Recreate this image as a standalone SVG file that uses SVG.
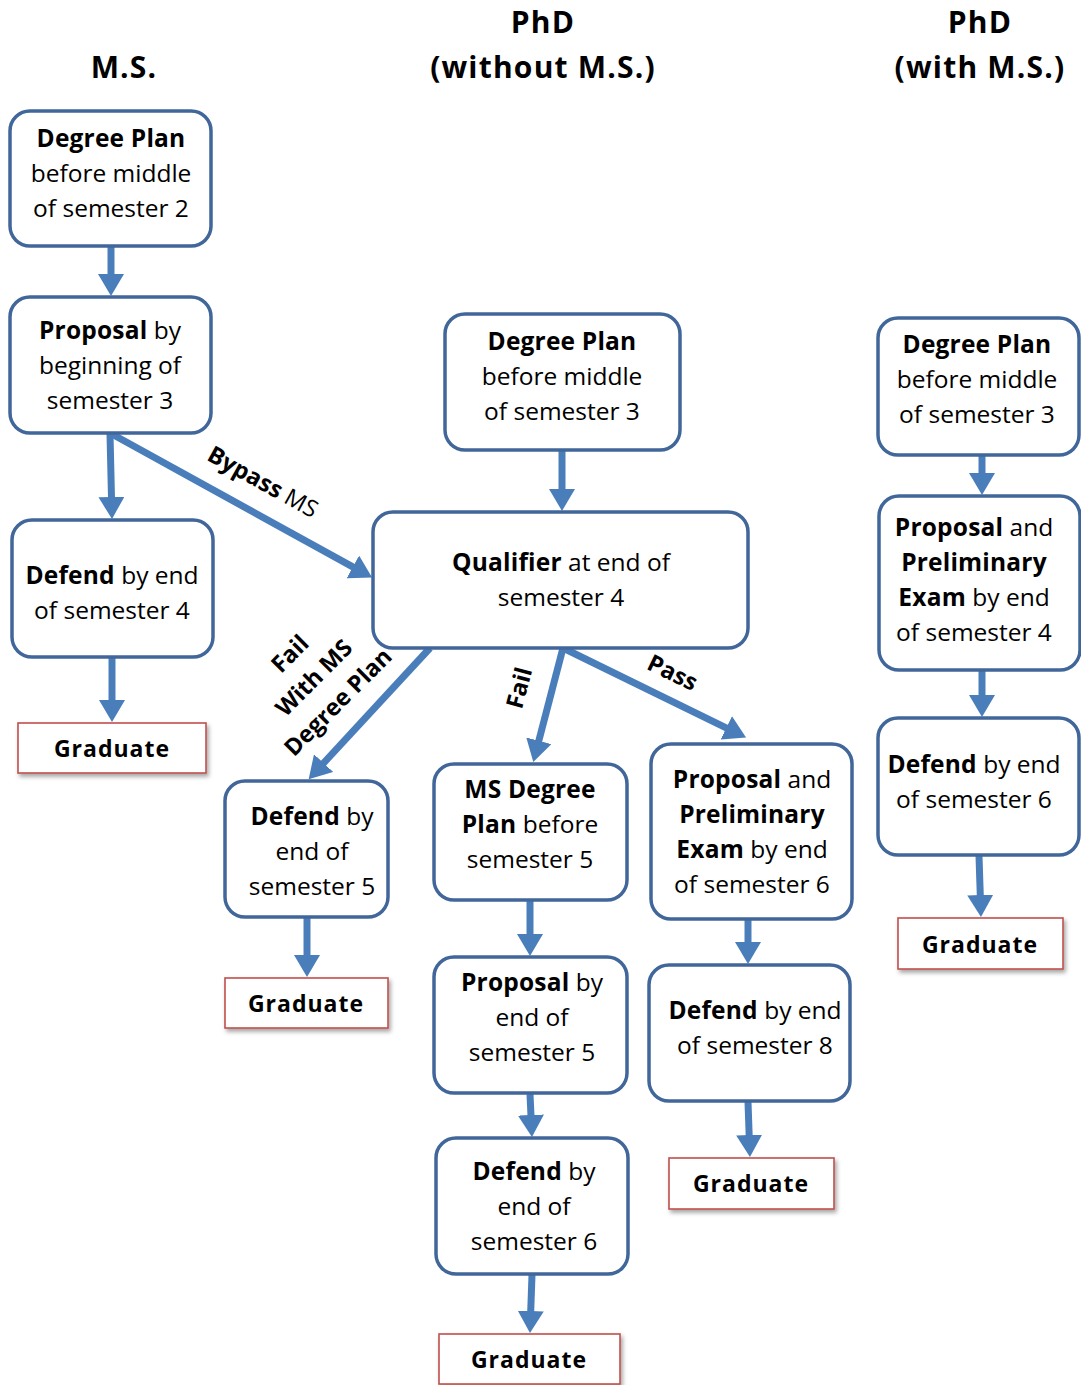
<svg xmlns="http://www.w3.org/2000/svg" width="1081" height="1385" viewBox="0 0 1081 1385">
<style>
text{font-family:"Open Sans","Noto Sans","DejaVu Sans",sans-serif;fill:#000}
.box{fill:#fff;stroke:#41679a;stroke-width:3.5}
.grad{fill:#fff;stroke:#c0504d;stroke-width:1.6;filter:url(#sh)}
.t{font-size:24.5px;text-anchor:middle}
.b{font-weight:bold;letter-spacing:0.2px}
.g{font-size:23px;font-weight:bold;text-anchor:middle;letter-spacing:1px}
.h{font-size:30px;font-weight:bold;text-anchor:middle;letter-spacing:1.2px}
.lbl{font-size:23.5px;font-weight:bold;text-anchor:middle}
.arr{stroke:#4a7ebb;stroke-width:7;fill:none;marker-end:url(#ah)}
</style>
<defs>
<marker id="ah" markerUnits="userSpaceOnUse" viewBox="0 -13 22 26" markerWidth="22" markerHeight="26" refX="1" refY="0" orient="auto">
<path d="M0,-13 L22,0 L0,13 z" fill="#4a7ebb"/>
</marker>
<filter id="sh" x="-10%" y="-20%" width="130%" height="160%">
<feDropShadow dx="2" dy="3" stdDeviation="2" flood-color="#000" flood-opacity="0.35"/>
</filter>
</defs>

<g id="headers">
<text class="h" x="124" y="78">M.S.</text>
<text class="h" x="543" y="33">PhD</text>
<text class="h" x="543" y="78">(without M.S.)</text>
<text class="h" x="980" y="33">PhD</text>
<text class="h" x="980" y="78">(with M.S.)</text>
</g>

<g id="connectors">
<line class="arr" x1="111" y1="247" x2="111" y2="275"/>
<line class="arr" x1="110" y1="434" x2="111.5" y2="498"/>
<line class="arr" x1="112" y1="658" x2="112" y2="701"/>
<line class="arr" x1="110" y1="433" x2="353.7" y2="567.4"/>
<line class="arr" x1="562" y1="451" x2="562" y2="490"/>
<line class="arr" x1="430" y1="648" x2="322.9" y2="763.8"/>
<line class="arr" x1="307" y1="918" x2="307" y2="956"/>
<line class="arr" x1="563" y1="648" x2="538.6" y2="741.7"/>
<line class="arr" x1="530" y1="901" x2="530" y2="935"/>
<line class="arr" x1="530" y1="1094" x2="531" y2="1116"/>
<line class="arr" x1="532" y1="1275" x2="530.7" y2="1312"/>
<line class="arr" x1="563" y1="648" x2="727.2" y2="728.3"/>
<line class="arr" x1="748" y1="920" x2="748" y2="943"/>
<line class="arr" x1="748" y1="1102" x2="749.2" y2="1136"/>
<line class="arr" x1="982" y1="456" x2="982" y2="474"/>
<line class="arr" x1="982" y1="671" x2="982" y2="696"/>
<line class="arr" x1="979" y1="856" x2="980.3" y2="896"/>
<text class="lbl" transform="translate(259,489) rotate(29)"><tspan font-weight="bold">Bypass</tspan><tspan font-weight="normal"> MS</tspan></text>
<g transform="translate(314,678) rotate(-45)">
<text class="lbl" x="0" y="-26">Fail</text>
<text class="lbl" x="0" y="8">With MS</text>
<text class="lbl" x="0" y="42">Degree Plan</text>
</g>
<text class="lbl" transform="translate(527,690) rotate(-75)">Fail</text>
<text class="lbl" transform="translate(669,680) rotate(26)">Pass</text>
</g>

<g id="ms-degree-plan">
<rect class="box" x="10" y="111" width="201" height="135" rx="20"/>
<text class="t" x="111" y="147"><tspan class="b">Degree Plan</tspan></text>
<text class="t" x="111" y="182">before middle</text>
<text class="t" x="111" y="217">of semester 2</text>
</g>
<g id="ms-proposal">
<rect class="box" x="10" y="297" width="201" height="136" rx="20"/>
<text class="t" x="110" y="339"><tspan class="b">Proposal</tspan> by</text>
<text class="t" x="110" y="374">beginning of</text>
<text class="t" x="110" y="409">semester 3</text>
</g>
<g id="ms-defend">
<rect class="box" x="12" y="520" width="201" height="137" rx="20"/>
<text class="t" x="112" y="584"><tspan class="b">Defend</tspan> by end</text>
<text class="t" x="112" y="619">of semester 4</text>
</g>
<g id="ms-graduate">
<rect class="grad" x="18" y="723" width="188" height="50"/>
<text class="g" x="112" y="757">Graduate</text>
</g>

<g id="phd-degree-plan">
<rect class="box" x="445" y="314" width="235" height="136" rx="20"/>
<text class="t" x="562" y="350"><tspan class="b">Degree Plan</tspan></text>
<text class="t" x="562" y="385">before middle</text>
<text class="t" x="562" y="420">of semester 3</text>
</g>
<g id="qualifier">
<rect class="box" x="373" y="512" width="375" height="136" rx="20"/>
<text class="t" x="561" y="571"><tspan class="b">Qualifier</tspan> at end of</text>
<text class="t" x="561" y="606">semester 4</text>
</g>
<g id="fail-defend">
<rect class="box" x="225" y="781" width="163" height="136" rx="20"/>
<text class="t" x="312" y="825"><tspan class="b">Defend</tspan> by</text>
<text class="t" x="312" y="860">end of</text>
<text class="t" x="312" y="895">semester 5</text>
</g>
<g id="fail-graduate">
<rect class="grad" x="225" y="978" width="163" height="50"/>
<text class="g" x="306" y="1012">Graduate</text>
</g>
<g id="ms-degree-plan-5">
<rect class="box" x="434" y="764" width="193" height="136" rx="20"/>
<text class="t" x="530" y="798"><tspan class="b">MS Degree</tspan></text>
<text class="t" x="530" y="833"><tspan class="b">Plan</tspan> before</text>
<text class="t" x="530" y="868">semester 5</text>
</g>
<g id="proposal-5">
<rect class="box" x="434" y="957" width="193" height="136" rx="20"/>
<text class="t" x="532" y="991"><tspan class="b">Proposal</tspan> by</text>
<text class="t" x="532" y="1026">end of</text>
<text class="t" x="532" y="1061">semester 5</text>
</g>
<g id="defend-6">
<rect class="box" x="436" y="1138" width="192" height="136" rx="20"/>
<text class="t" x="534" y="1180"><tspan class="b">Defend</tspan> by</text>
<text class="t" x="534" y="1215">end of</text>
<text class="t" x="534" y="1250">semester 6</text>
</g>
<g id="defend-6-graduate">
<rect class="grad" x="439" y="1334" width="181" height="50"/>
<text class="g" x="529" y="1368">Graduate</text>
</g>
<g id="proposal-prelim-6">
<rect class="box" x="651" y="744" width="201" height="175" rx="20"/>
<text class="t" x="752" y="788"><tspan class="b">Proposal</tspan> and</text>
<text class="t" x="752" y="823"><tspan class="b">Preliminary</tspan></text>
<text class="t" x="752" y="858"><tspan class="b">Exam</tspan> by end</text>
<text class="t" x="752" y="893">of semester 6</text>
</g>
<g id="defend-8">
<rect class="box" x="649" y="965" width="201" height="136" rx="20"/>
<text class="t" x="755" y="1019"><tspan class="b">Defend</tspan> by end</text>
<text class="t" x="755" y="1054">of semester 8</text>
</g>
<g id="defend-8-graduate">
<rect class="grad" x="669" y="1158" width="165" height="51"/>
<text class="g" x="751" y="1192">Graduate</text>
</g>

<g id="r-degree-plan">
<rect class="box" x="878" y="318" width="201" height="137" rx="20"/>
<text class="t" x="977" y="353"><tspan class="b">Degree Plan</tspan></text>
<text class="t" x="977" y="388">before middle</text>
<text class="t" x="977" y="423">of semester 3</text>
</g>
<g id="r-proposal-prelim">
<rect class="box" x="879" y="496" width="201" height="174" rx="20"/>
<text class="t" x="974" y="536"><tspan class="b">Proposal</tspan> and</text>
<text class="t" x="974" y="571"><tspan class="b">Preliminary</tspan></text>
<text class="t" x="974" y="606"><tspan class="b">Exam</tspan> by end</text>
<text class="t" x="974" y="641">of semester 4</text>
</g>
<g id="r-defend">
<rect class="box" x="878" y="718" width="201" height="137" rx="20"/>
<text class="t" x="974" y="773"><tspan class="b">Defend</tspan> by end</text>
<text class="t" x="974" y="808">of semester 6</text>
</g>
<g id="r-graduate">
<rect class="grad" x="898" y="918" width="165" height="51"/>
<text class="g" x="980" y="953">Graduate</text>
</g>
</svg>
